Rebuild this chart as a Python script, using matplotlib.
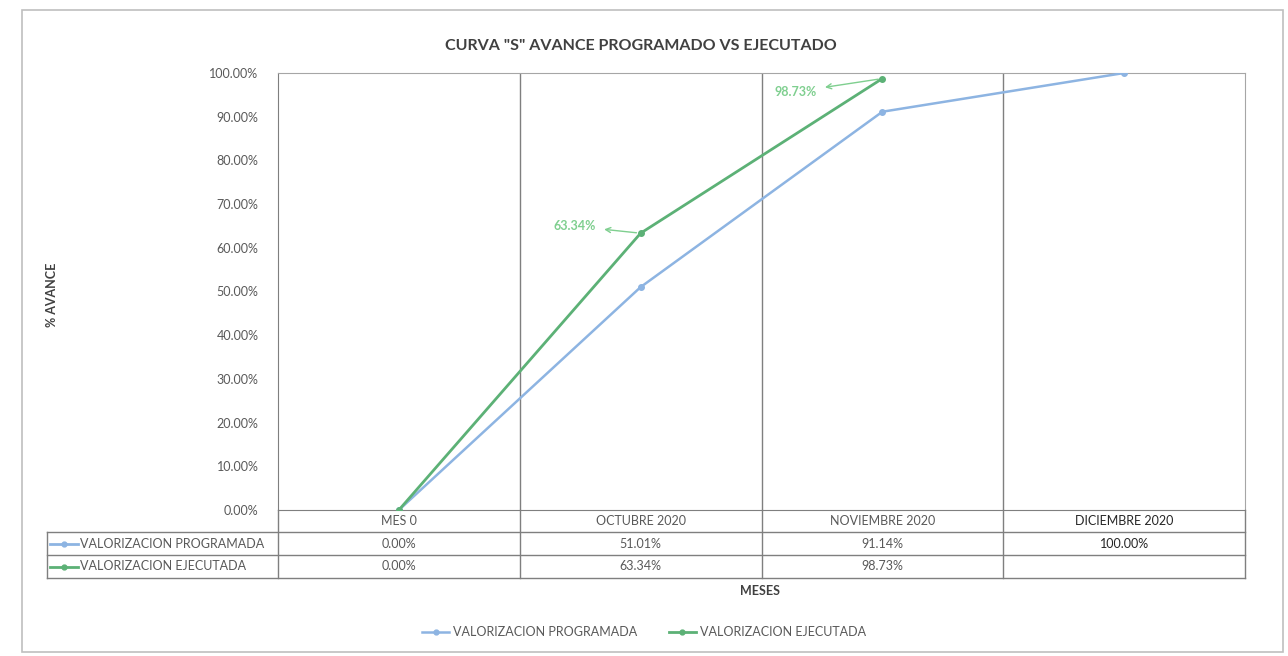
import matplotlib
matplotlib.use("Agg")
import matplotlib.pyplot as plt
import matplotlib.transforms as mtransforms
from matplotlib.lines import Line2D
from matplotlib.patches import Rectangle

plt.rcParams['font.family'] = ['Lato', 'DejaVu Sans']

categories = ["MES 0", "OCTUBRE 2020", "NOVIEMBRE 2020", "DICIEMBRE 2020"]
programada = [0.0, 51.01, 91.14, 100.0]
ejecutada = [0.0, 63.34, 98.73]
series_names = ["VALORIZACION PROGRAMADA", "VALORIZACION EJECUTADA"]
yticks = [0, 10, 20, 30, 40, 50, 60, 70, 80, 90, 100]

c_prog = "#8db4e2"
c_ejec = "#5cb176"
c_lab = "#7fcf8f"
c_txt = "#595959"
c_grid = "#7f7f7f"

W, H = 1288, 656
fig = plt.figure(figsize=(W / 100, H / 100), dpi=100)

def fx(px):
    return px / W

def fy(py):
    return 1 - py / H

# outer frame
fig.add_artist(Rectangle((fx(22), fy(652)), fx(1283) - fx(22), fy(10) - fy(652),
                         transform=fig.transFigure, fill=False, edgecolor="#bfbfbf", lw=1.2))

ax = fig.add_axes([fx(278), fy(510), fx(1245) - fx(278), fy(73) - fy(510)])
x = list(range(len(categories)))
ax.set_xlim(-0.5, len(categories) - 0.5)
ax.set_ylim(0, 100)

ax.plot(x, programada, color=c_prog, lw=1.8, marker="o", ms=4, zorder=3)
ax.plot(x[:len(ejecutada)], ejecutada, color=c_ejec, lw=2.0, marker="o", ms=4, zorder=4)

# vertical grid at category boundaries
for b in [i + 0.5 for i in range(len(categories) - 1)]:
    ax.axvline(b, color=c_grid, lw=1.0, zorder=1)

for s in ["top", "right"]:
    ax.spines[s].set_color("#a6a6a6")
ax.spines["left"].set_color(c_grid)
ax.spines["bottom"].set_color(c_grid)

ax.set_yticks(yticks)
ax.set_yticklabels([f"{v:.2f}%" for v in yticks], fontsize=9, color=c_txt)
ax.tick_params(axis="y", length=0, pad=14)
ax.set_xticks([])

# data labels with arrows (offsets in points)
ann = [(1, ejecutada[1], -47.5, 5), (2, ejecutada[2], -62.5, -9.5)]
for xi, yv, dx, dy in ann:
    ax.annotate(f"{yv:.2f}%", xy=(xi, yv), xytext=(dx, dy), textcoords="offset points",
                ha="center", va="center", color=c_lab, fontsize=9, fontweight="bold",
                arrowprops=dict(arrowstyle="<-", color=c_lab, lw=1.0, shrinkA=4, shrinkB=3))

# title
fig.text(fx(641), fy(46), 'CURVA "S" AVANCE PROGRAMADO VS EJECUTADO', ha="center", va="center",
         fontsize=11.5, fontweight="bold", color="#404040")
fig.text(fx(52), fy(295), "% AVANCE", rotation=90, ha="center", va="center",
         fontsize=9, fontweight="bold", color="#404040")
fig.text(fx(760), fy(591), "MESES", ha="center", va="center", fontsize=9,
         fontweight="bold", color="#404040")

# data table below the axes
bt = mtransforms.blended_transform_factory(ax.transData, fig.transFigure)
r0, r1, r2, r3 = fy(510), fy(532), fy(555), fy(578)
xl = -0.5 - (278 - 47) / (1245 - 278) * len(categories)
xr = len(categories) - 0.5
lw_t = 1.0
for yy in [r1, r2, r3]:
    fig.add_artist(Line2D([xl, xr], [yy, yy], transform=bt, color=c_grid, lw=lw_t))
for b in [i - 0.5 for i in range(len(categories) + 1)]:
    fig.add_artist(Line2D([b, b], [r0, r3], transform=bt, color=c_grid, lw=lw_t))
fig.add_artist(Line2D([xl, xl], [r1, r3], transform=bt, color=c_grid, lw=lw_t))

for i, c in enumerate(categories):
    col = "#262626" if i == len(categories) - 1 else c_txt
    fig.text(i, (r0 + r1) / 2, c, transform=bt, ha="center", va="center", fontsize=9, color=col)
rows = [programada, ejecutada]
colors = [c_prog, c_ejec]
for ri, (vals, yy) in enumerate(zip(rows, [(r1 + r2) / 2, (r2 + r3) / 2])):
    for i, v in enumerate(vals):
        col = "#262626" if i == len(categories) - 1 else c_txt
        fig.text(i, yy, f"{v:.2f}%", transform=bt, ha="center", va="center", fontsize=9, color=col)
    # legend key in the row label cell
    fig.add_artist(Line2D([fx(50), fx(64), fx(78)], [yy, yy, yy], transform=fig.transFigure,
                          color=colors[ri], lw=2, marker="o", ms=3.5, markevery=[1]))
    fig.text(fx(80), yy, series_names[ri], ha="left", va="center", fontsize=9, color=c_txt,
             transform=fig.transFigure)

# legend at the bottom
handles = [Line2D([0], [0], color=c_prog, lw=1.8, marker="o", ms=3.5),
           Line2D([0], [0], color=c_ejec, lw=2.0, marker="o", ms=3.5)]
fig.legend(handles, series_names, loc="center", bbox_to_anchor=(fx(644), fy(632)), ncol=2,
           frameon=False, fontsize=9, labelcolor=c_txt, handlelength=2.2, columnspacing=2.5,
           handletextpad=0.3)

fig.savefig("out.png", dpi=100)
